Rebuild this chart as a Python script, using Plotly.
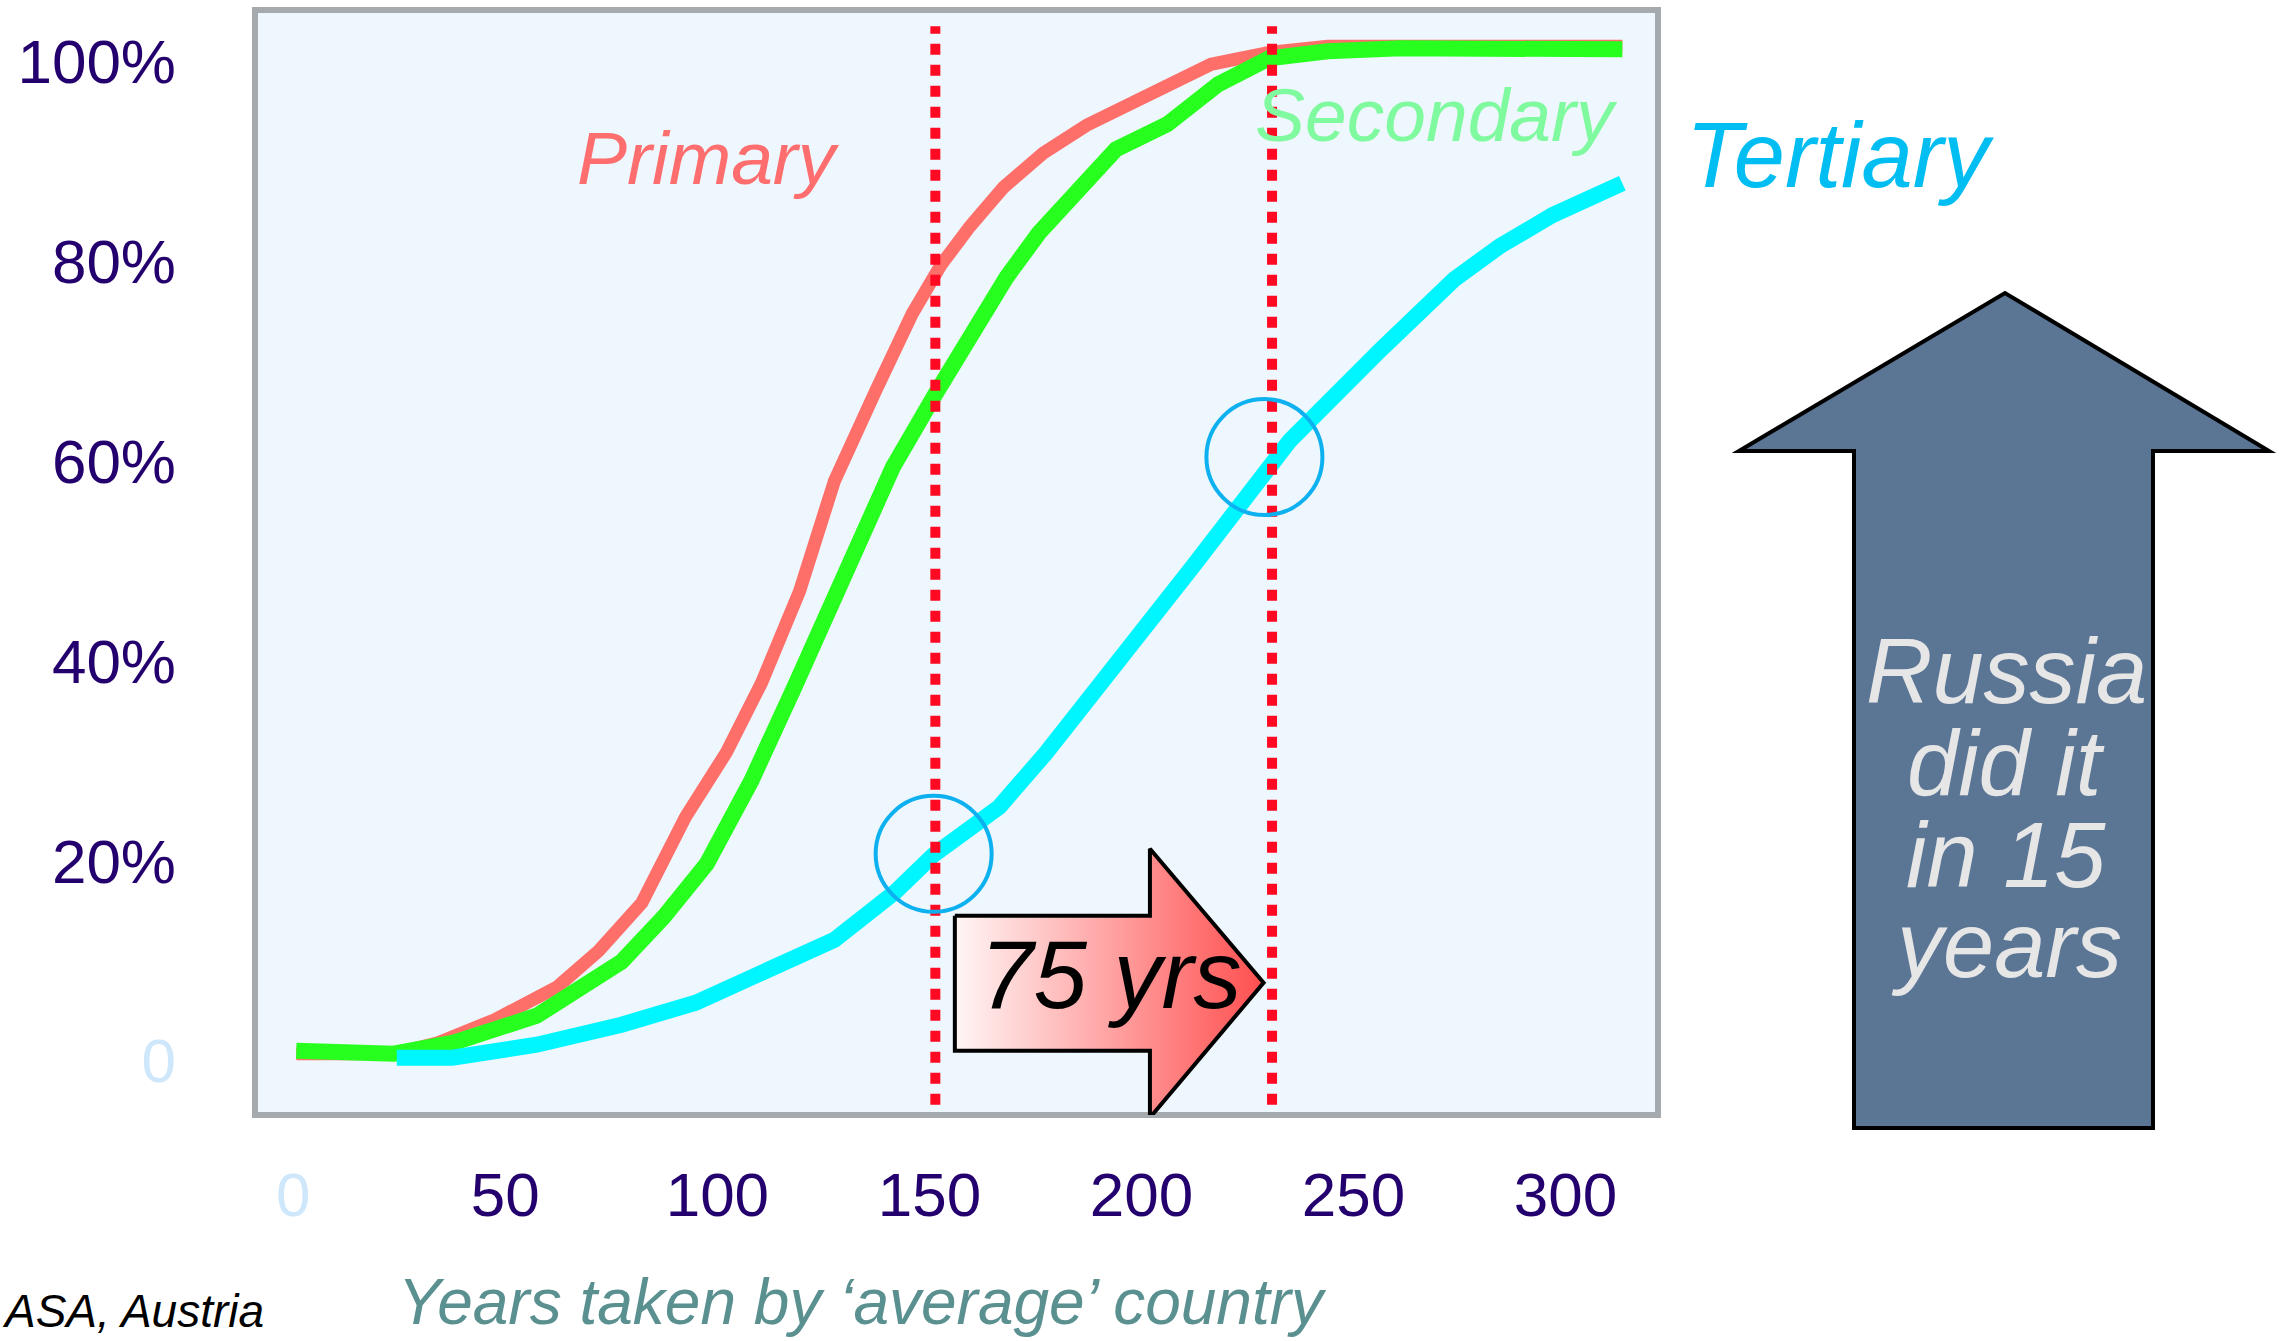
import plotly.graph_objects as go

# ---------------- data ----------------
primary_years = [0.7, 23.7, 34.1, 47.5, 62.3, 72.0, 82.2, 92.5, 102.2, 110.4, 119.4, 127.6,
                 137.3, 145.9, 152.7, 159.6, 167.5, 176.8, 187.1, 199.2, 216.4, 230.1, 243.9, 313.4]
primary_share = [0.7, 0.7, 1.8, 4.1, 7.4, 11.0, 15.8, 24.4, 30.9, 37.8, 47.0, 58.0,
                 67.0, 74.7, 79.6, 83.5, 87.4, 90.8, 93.6, 96.2, 99.7, 100.9, 101.5, 101.5]

secondary_years = [0.7, 23.7, 37.8, 57.4, 77.4, 87.4, 97.5, 108.0, 118.3, 128.7, 141.4, 151.0,
                   159.6, 168.2, 175.8, 184.7, 194.0, 206.1, 218.1, 230.1, 243.9, 261.1, 313.4]
secondary_share = [1.0, 0.7, 1.8, 4.5, 9.9, 14.4, 19.7, 28.0, 37.5, 47.7, 59.4, 66.4,
                   72.8, 78.4, 82.8, 87.2, 91.2, 93.7, 97.7, 100.3, 101.0, 101.3, 101.2]

tertiary_years = [24.4, 37.5, 57.4, 77.4, 94.9, 111.5, 127.6, 142.0, 151.0, 166.5, 177.5,
                  212.2, 234.9, 256.3, 273.8, 284.5, 296.9, 313.4]
tertiary_share = [0.3, 0.3, 1.6, 3.6, 5.8, 9.1, 12.1, 16.9, 20.6, 25.4, 30.8,
                  49.5, 62.0, 71.1, 78.2, 81.5, 84.6, 87.8]

x_ticks = [0, 50, 100, 150, 200, 250, 300]
x_tick_labels = ["0", "50", "100", "150", "200", "250", "300"]
y_ticks = [0, 20, 40, 60, 80, 100]
y_tick_labels = ["0", "20%", "40%", "60%", "80%", "100%"]

marker_years = [151.4, 230.8]                    # dotted vertical markers
circle_points = [(151.0, 20.7), (229.0, 60.4)]   # highlighted crossings
gap_label = "75 yrs"

# ---------------- layout geometry ----------------
W, H = 2288, 1341
L, R, T, B = 255, 630, 10, 226
X0_PX, X_SCALE = 293.3, 4.2407     # pixel of year 0, pixels per year
Y0_PX, Y_SCALE = 1060.7, 9.994     # pixel of 0 %, pixels per %
x_range = [(L - X0_PX) / X_SCALE, (W - R - X0_PX) / X_SCALE]
y_range = [(Y0_PX - (H - B)) / Y_SCALE, (Y0_PX - T) / Y_SCALE]


def pxx(xr):
    return (xr - L) / (W - L - R)


def pxy(yr):
    return (H - B - yr) / (H - T - B)


FONT = "Liberation Sans, Arial, Helvetica, sans-serif"
DARK = "#24006e"
ZERO = "#cfe7fb"


def col(lbl):
    c = ZERO if lbl == "0" else DARK
    return f'<span style="color:{c}">{lbl}</span>'


fig = go.Figure()

# 75 yrs block arrow (gradient filled), in data units
ax_ = [156.0, 202.0, 202.0, 228.8, 202.0, 202.0, 156.0, 156.0]
ay_ = [14.5, 14.5, 21.2, 7.8, -5.7, 1.0, 1.0, 14.5]
fig.add_trace(go.Scatter(
    x=ax_, y=ay_, mode="lines", fill="toself",
    fillgradient=dict(type="horizontal", colorscale=[[0, "#fff6f6"], [1, "#ff4f4f"]]),
    line=dict(color="black", width=4), hoverinfo="skip", showlegend=False))

fig.add_trace(go.Scatter(x=primary_years, y=primary_share, mode="lines", name="Primary",
                         line=dict(color="#ff6f69", width=13), showlegend=False))
fig.add_trace(go.Scatter(x=secondary_years, y=secondary_share, mode="lines", name="Secondary",
                         line=dict(color="#27ff1f", width=16), showlegend=False))
fig.add_trace(go.Scatter(x=tertiary_years, y=tertiary_share, mode="lines", name="Tertiary",
                         line=dict(color="#00f6ff", width=16), showlegend=False))

shapes = []
# frame
shapes.append(dict(type="rect", xref="paper", yref="paper", x0=0, x1=1, y0=0, y1=1,
                   line=dict(color="#a5aaae", width=6), layer="below"))
# dotted markers
for xv in marker_years:
    shapes.append(dict(type="line", xref="x", yref="y", x0=xv, x1=xv, y0=-4.4, y1=103.5,
                       line=dict(color="#ff0a22", width=10, dash="11px,10px"), layer="above"))
# circles
for cx, cy in circle_points:
    rx, ry = 58 / X_SCALE, 58 / Y_SCALE
    shapes.append(dict(type="circle", xref="x", yref="y", x0=cx - rx, x1=cx + rx,
                       y0=cy - ry, y1=cy + ry, line=dict(color="#0db1f0", width=4),
                       layer="above"))
# Russia arrow (pixel geometry -> paper)
pts = [(1854, 1128), (1854, 451), (1739, 451), (2005, 293), (2269, 451),
       (2153, 451), (2153, 1128)]
path = "M " + " L ".join(f"{pxx(a):.4f},{pxy(b):.4f}" for a, b in pts) + " Z"
shapes.append(dict(type="path", xref="paper", yref="paper", path=path,
                   fillcolor="#5b7594", line=dict(color="black", width=4), layer="above"))

ann = []


def txt(s, xr, yr, size, color, italic=True, xanchor="center"):
    t = f"<i>{s}</i>" if italic else s
    ann.append(dict(text=t, x=pxx(xr), y=pxy(yr), xref="paper", yref="paper",
                    xanchor=xanchor, yanchor="middle", showarrow=False,
                    font=dict(family=FONT, size=size, color=color)))


txt("Primary", 708, 158, 75, "#ff6e6e")
txt("Secondary", 1436, 115, 75, "#80fa9f")
txt("Tertiary", 1840, 155, 92, "#00bdf2")
txt(gap_label, 1110, 974, 96, "black")
for line, yy in zip(["Russia", "did it", "in 15", "years"], [671, 763, 855, 945]):
    txt(line, 2006, yy, 92, "#e6e6e6")
txt("Years taken by ‘average’ country", 862, 1302, 64, "#5a9090")
txt("ASA, Austria", 0, 1311, 46, "black", xanchor="left")

fig.update_layout(
    width=W, height=H, margin=dict(l=L, r=R, t=T, b=B, pad=0),
    paper_bgcolor="white", plot_bgcolor="#eef6fe",
    shapes=shapes, annotations=ann, showlegend=False,
    font=dict(family=FONT, size=62, color=DARK),
    xaxis=dict(range=x_range, tickvals=x_ticks, ticktext=[col(t) for t in x_tick_labels],
               showgrid=False, zeroline=False, showline=False, ticks="",
               ticklabelstandoff=38, tickfont=dict(size=62), fixedrange=True),
    yaxis=dict(range=y_range, tickvals=y_ticks, ticktext=[col(t) for t in y_tick_labels],
               showgrid=False, zeroline=False, showline=False, ticks="",
               ticklabelstandoff=78, tickfont=dict(size=62), fixedrange=True),
)

fig.write_html("out.html", config={"displayModeBar": False},
               post_script="document.body.style.margin='0';document.body.style.overflow='hidden';")
